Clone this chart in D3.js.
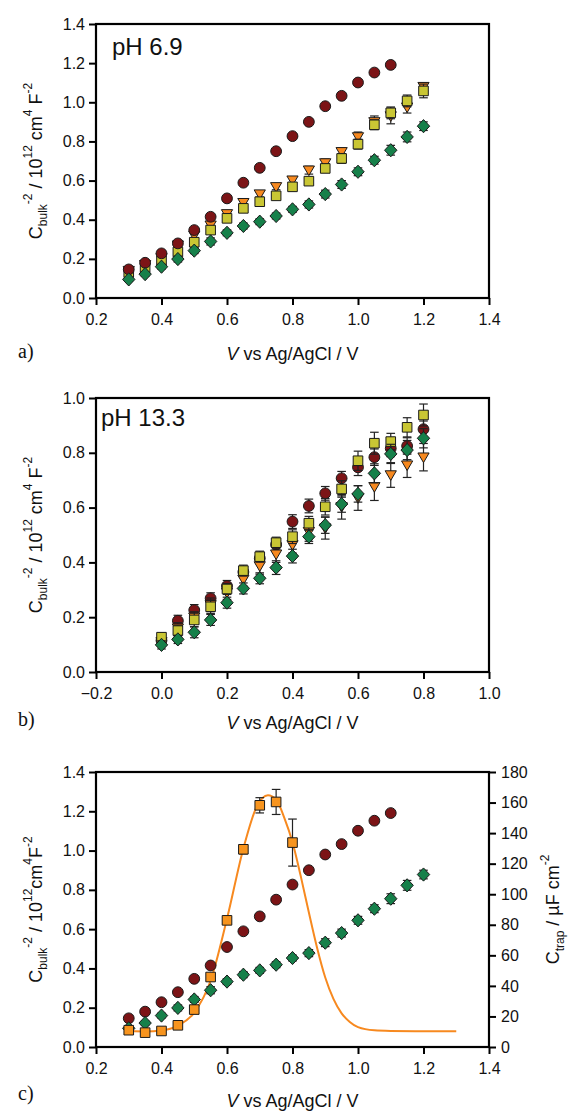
<!DOCTYPE html>
<html><head><meta charset="utf-8">
<script src="https://cdn.jsdelivr.net/npm/d3@7"></script>
<style>
body{margin:0;background:#fff;}
svg{display:block;}
text{font-family:"Liberation Sans",Arial,sans-serif;fill:#111;}
</style></head><body>
<svg id="chart" width="569" height="1113"></svg>
<script>
// ---------- data ----------
const voltsA = [0.30,0.35,0.40,0.45,0.50,0.55,0.60,0.65,0.70,0.75,0.80,0.85,0.90,0.95,1.00,1.05,1.10,1.15,1.20];
const redA   = [0.146,0.180,0.228,0.279,0.347,0.415,0.509,0.589,0.665,0.750,0.827,0.900,0.980,1.033,1.101,1.152,1.191];
const redErrA = [0.01,0.01,0.01,0.01,0.01,0.01,0.01,0.01,0.01,0.01,0.01,0.01,0.01,0.01,0.01,0.01,0.01];
const orangeA = [0.140,0.170,0.205,0.270,0.320,0.372,0.430,0.487,0.531,0.568,0.602,0.653,0.690,0.747,0.823,0.900,0.930,0.975,1.080];
const orangeErrA = [0.01,0.01,0.01,0.015,0.015,0.015,0.015,0.015,0.015,0.015,0.015,0.02,0.02,0.02,0.025,0.03,0.04,0.03,0.02];
const yellowA = [0.130,0.155,0.190,0.235,0.285,0.347,0.407,0.458,0.492,0.522,0.568,0.597,0.662,0.713,0.786,0.885,0.946,1.007,1.058];
const yellowErrA = [0.01,0.01,0.01,0.015,0.015,0.015,0.015,0.015,0.015,0.015,0.02,0.02,0.02,0.025,0.025,0.025,0.03,0.03,0.035];
const greenA = [0.095,0.122,0.160,0.199,0.242,0.289,0.333,0.368,0.390,0.419,0.453,0.478,0.531,0.580,0.645,0.704,0.755,0.823,0.878];
const greenErrA = [0.01,0.01,0.012,0.015,0.015,0.018,0.015,0.015,0.015,0.015,0.015,0.018,0.02,0.02,0.02,0.02,0.025,0.025,0.022];

const voltsB = [0.00,0.05,0.10,0.15,0.20,0.25,0.30,0.35,0.40,0.45,0.50,0.55,0.60,0.65,0.70,0.75,0.80];
const redB = [0.115,0.187,0.226,0.269,0.314,0.365,0.415,0.465,0.549,0.606,0.652,0.707,0.747,0.784,0.816,0.825,0.886];
const redErrB = [0.015,0.02,0.02,0.02,0.02,0.02,0.02,0.02,0.025,0.025,0.025,0.025,0.03,0.03,0.03,0.03,0.03];
const orangeB = [0.110,0.160,0.200,0.245,0.290,0.338,0.387,0.430,0.464,0.512,0.525,0.603,0.635,0.676,0.719,0.755,0.784];
const orangeErrB = [0.015,0.02,0.02,0.025,0.025,0.025,0.03,0.03,0.03,0.035,0.04,0.045,0.045,0.05,0.045,0.045,0.05];
const yellowB = [0.127,0.151,0.190,0.238,0.303,0.370,0.421,0.472,0.494,0.543,0.603,0.668,0.771,0.835,0.841,0.893,0.938];
const yellowErrB = [0.015,0.02,0.025,0.025,0.02,0.02,0.02,0.02,0.025,0.025,0.03,0.03,0.035,0.04,0.03,0.035,0.04];
const greenB = [0.099,0.119,0.145,0.190,0.253,0.305,0.342,0.381,0.423,0.494,0.536,0.613,0.650,0.725,0.796,0.810,0.853];
const greenErrB = [0.015,0.015,0.02,0.02,0.02,0.02,0.02,0.025,0.025,0.025,0.03,0.03,0.03,0.035,0.035,0.035,0.035];

const trapV = [0.30,0.35,0.40,0.45,0.50,0.55,0.60,0.65,0.70,0.75,0.80];
const trapC = [11.0,9.4,10.5,14.2,24.5,45.8,82.9,129.4,158.2,160.4,133.8];
const trapErr = [1,1,1,1,1.5,2,2,3,5,8.2,15.4];
const fitV = [0.30,0.35,0.40,0.45,0.50,0.55,0.60,0.65,0.69,0.725,0.75,0.775,0.80,0.825,0.85,0.875,0.90,0.925,0.95,0.975,1.00,1.05,1.10,1.20,1.30];
const fitC = [10.3,10.2,10.8,14.0,22.5,43.5,84,130,157,164.8,162,150,134,112,88,65,45.5,31.5,22,16.4,13,10.9,10.5,10.3,10.3];

const ticksXA = [0.2,0.4,0.6,0.8,1.0,1.2,1.4];
const ticksXB = [-0.2,0.0,0.2,0.4,0.6,0.8,1.0];
const ticksYA = [0.0,0.2,0.4,0.6,0.8,1.0,1.2,1.4];
const ticksYB = [0.0,0.2,0.4,0.6,0.8,1.0];
const ticksYR = [0,20,40,60,80,100,120,140,160,180];

// ---------- style ----------
const COL = {red:"#7c1416", orange:"#f7891f", yellow:"#c9c634", green:"#16804a", trap:"#f7941e"};
const FL = 96, FR = 489;
const svg = d3.select("#chart");

function rich(sel, parts, subSize){
  let off = 0;
  parts.forEach(p=>{
    const target = p.sub ? 0.28 : (p.sup ? -0.55 : 0);
    const t = sel.append("tspan").text(p.t);
    const fs = (p.sub||p.sup) ? subSize : null;
    if(fs) t.style("font-size", fs+"px");
    if(p.it) t.style("font-style","italic");
    // dy in px relative to main size
    const main = parseFloat(sel.style("font-size"));
    const d = (target - off)*main;
    if(d!==0) t.attr("dy", d);
    off = target;
  });
}

function marker(g, shape, fill){
  const s = g.append("path").attr("fill", fill).attr("stroke","#1a1a1a").attr("stroke-width",1);
  let d;
  if(shape==="circle"){ d = d3.symbol(d3.symbolCircle, Math.PI*5.4*5.4)(); }
  else if(shape==="square"){ d = "M-4.8,-4.8H4.8V4.8H-4.8Z"; }
  else if(shape==="diamond"){ d = "M0,-6.6L6.2,0L0,6.6L-6.2,0Z"; }
  else { d = "M-5.6,-4.2L5.6,-4.2L0,5.4Z"; }
  s.attr("d", d);
}

function series(g, x, y, xs, ys, errs, shape, fill){
  const grp = g.append("g");
  ys.forEach((v,i)=>{
    const cx = x(xs[i]), cy = y(v);
    if(errs){
      const e = errs[i];
      const y1 = y(v+e), y2 = y(v-e);
      grp.append("line").attr("x1",cx).attr("x2",cx).attr("y1",y1).attr("y2",y2).attr("stroke","#222").attr("stroke-width",1.2);
      [y1,y2].forEach(yy=>grp.append("line").attr("x1",cx-4.3).attr("x2",cx+4.3).attr("y1",yy).attr("y2",yy).attr("stroke","#222").attr("stroke-width",1.2));
    }
  });
  ys.forEach((v,i)=>{
    const m = grp.append("g").attr("transform",`translate(${x(xs[i])},${y(v)})`);
    marker(m, shape, fill);
  });
}

function frameAxes(top, bottom, xDom, xTicks, yDom, yTicks, letter, letterY, titleY){
  const x = d3.scaleLinear().domain(xDom).range([FL,FR]);
  const y = d3.scaleLinear().domain(yDom).range([bottom,top]);
  const ax = svg.append("g").attr("transform",`translate(0,${bottom})`)
    .call(d3.axisBottom(x).tickValues(xTicks).tickFormat(d3.format(".1f")).tickSize(7).tickPadding(9));
  const ay = svg.append("g").attr("transform",`translate(${FL},0)`)
    .call(d3.axisLeft(y).tickValues(yTicks).tickFormat(d3.format(".1f")).tickSize(7).tickPadding(4));
  [ax,ay].forEach(a=>{
    a.select(".domain").remove();
    a.selectAll(".tick line").attr("stroke","#000").attr("stroke-width",2);
    a.selectAll(".tick text").style("font-size","16px").style("font-family",'"Liberation Sans",Arial,sans-serif').attr("fill","#111");
  });
  svg.append("rect").attr("x",FL).attr("y",top).attr("width",FR-FL).attr("height",bottom-top)
    .attr("fill","none").attr("stroke","#000").attr("stroke-width",2.2);
  // x title
  const xt = svg.append("text").attr("x",(FL+FR)/2).attr("y",titleY).attr("text-anchor","middle").style("font-size","18px");
  rich(xt,[{t:"V",it:true},{t:" vs Ag/AgCl / V"}],12);
  svg.append("text").attr("x",18).attr("y",letterY).style("font-family",'"Liberation Serif","Times New Roman",serif').style("font-size","20px").text(letter+")");
  // y title
  const yt = svg.append("text").attr("transform",`translate(42,${(top+bottom)/2}) rotate(-90)`).attr("text-anchor","middle").style("font-size","18px");
  return {x,y,yt};
}

// ---------- panel a ----------
{
  const top=24, bottom=298;
  const {x,y,yt} = frameAxes(top,bottom,[0.2,1.4],ticksXA,[0,1.4],ticksYA,"a",358,360);
  rich(yt,[{t:"C"},{t:"bulk",sub:true},{t:"-2",sup:true},{t:" / 10"},{t:"12",sup:true},{t:" cm"},{t:"4",sup:true},{t:" F"},{t:"-2",sup:true}],12);
  const g = svg.append("g");
  series(g,x,y,voltsA,orangeA,orangeErrA,"tri",COL.orange);
  series(g,x,y,voltsA,yellowA,yellowErrA,"square",COL.yellow);
  series(g,x,y,voltsA,redA,redErrA,"circle",COL.red);
  series(g,x,y,voltsA,greenA,greenErrA,"diamond",COL.green);
  svg.append("text").attr("x",112).attr("y",55).style("font-size","24px").text("pH 6.9");
}
// ---------- panel b ----------
{
  const top=398, bottom=672;
  const {x,y,yt} = frameAxes(top,bottom,[-0.2,1.0],ticksXB,[0,1.0],ticksYB,"b",726,729);
  rich(yt,[{t:"C"},{t:"bulk",sub:true},{t:"-2",sup:true},{t:" / 10"},{t:"12",sup:true},{t:" cm"},{t:"4",sup:true},{t:" F"},{t:"-2",sup:true}],12);
  const g = svg.append("g");
  series(g,x,y,voltsB,redB,redErrB,"circle",COL.red);
  series(g,x,y,voltsB,orangeB,orangeErrB,"tri",COL.orange);
  series(g,x,y,voltsB,yellowB,yellowErrB,"square",COL.yellow);
  series(g,x,y,voltsB,greenB,greenErrB,"diamond",COL.green);
  svg.append("text").attr("x",101).attr("y",426).style("font-size","24px").text("pH 13.3");
}
// ---------- panel c ----------
{
  const top=772, bottom=1047;
  const {x,y,yt} = frameAxes(top,bottom,[0.2,1.4],ticksXA,[0,1.4],ticksYA,"c",1100,1107);
  rich(yt,[{t:"C"},{t:"bulk",sub:true},{t:"-2",sup:true},{t:" / 10"},{t:"12",sup:true},{t:"cm"},{t:"4",sup:true},{t:"F"},{t:"-2",sup:true}],12);
  const y2 = d3.scaleLinear().domain([0,180]).range([bottom,top]);
  const ar = svg.append("g").attr("transform",`translate(${FR},0)`)
    .call(d3.axisRight(y2).tickValues(ticksYR).tickFormat(d3.format("d")).tickSize(7).tickPadding(5));
  ar.select(".domain").remove();
  ar.selectAll(".tick line").attr("stroke","#000").attr("stroke-width",2);
  ar.selectAll(".tick text").style("font-size","16px").style("font-family",'"Liberation Sans",Arial,sans-serif').attr("fill","#111");
  const rt = svg.append("text").attr("transform",`translate(559,${(top+bottom)/2}) rotate(-90)`).attr("text-anchor","middle").style("font-size","18px");
  rich(rt,[{t:"C"},{t:"trap",sub:true},{t:" / µF cm"},{t:"-2",sup:true}],12);
  const g = svg.append("g");
  const line = d3.line().x((d,i)=>x(fitV[i])).y(d=>y2(d)).curve(d3.curveMonotoneX);
  g.append("path").attr("d",line(fitC)).attr("fill","none").attr("stroke",COL.orange).attr("stroke-width",2);
  series(g,x,y,voltsA,redA,redErrA,"circle",COL.red);
  series(g,x,y,voltsA,greenA,greenErrA,"diamond",COL.green);
  series(g,x,y2,trapV,trapC,trapErr,"square",COL.trap);
}
</script>
</body></html>
